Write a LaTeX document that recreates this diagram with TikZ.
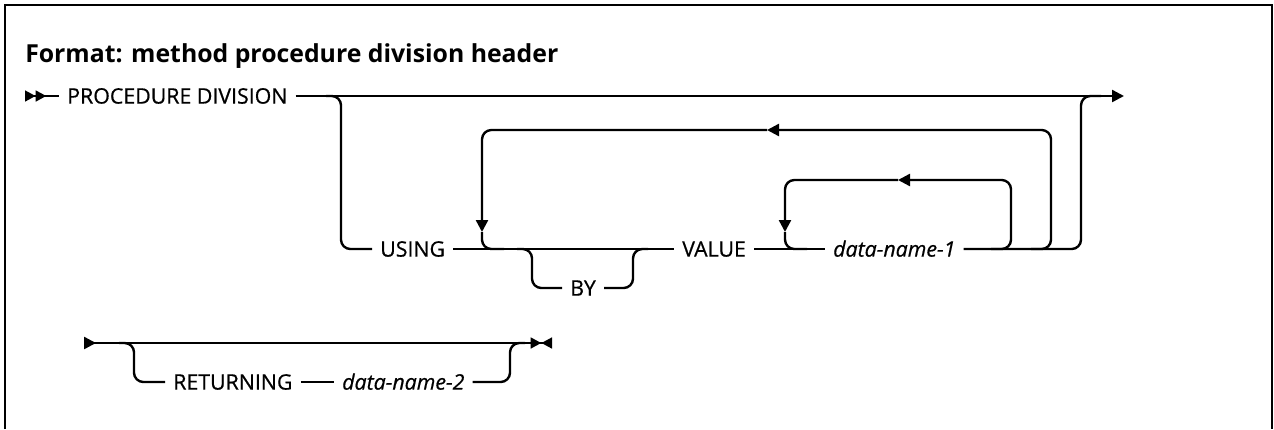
\documentclass[tikz,border=0pt]{standalone}
\usepackage{fontspec}
\setmainfont{Open Sans}
\newfontfamily\railfam{Open Sans}[FakeBold=0.6]
\usetikzlibrary{arrows.meta,positioning}
\newcommand{\kwfont}{\railfam\fontsize{16}{19}\selectfont}
\tikzset{
  railline/.style={line width=1.8pt, rounded corners=7pt},
  railtip/.style={-{Triangle[length=9pt,width=9pt]}},
  kwnode/.style={
    inner xsep=6pt, inner ysep=0pt, text height=11.4pt, text depth=0pt,
    font=\kwfont
  },
  varnode/.style={kwnode, font=\kwfont\itshape},
  headnode/.style={inner sep=0pt, font=\fontsize{18.6}{22}\selectfont\bfseries},
}

\begin{document}
\begin{tikzpicture}[x=0.75pt, y=-0.75pt]
  \useasboundingbox (0,0) rectangle (1274,429);
  \draw[line width=2pt] (5,429) -- (5,5) -- (1272,5) -- (1272,429);
  \node[headnode, anchor=base west] (head) at (25,62) {Format: method procedure division header};

  % first line
  \coordinate (st1) at (25,96);
  \node[kwnode, anchor=west] (proc) at (59,96) {PROCEDURE DIVISION};
  \node[kwnode, anchor=west] (using) at (372,249) {USING};
  \node[kwnode, anchor=west] (by) at (562,288) {BY};
  \node[kwnode, anchor=west] (value) at (674,249) {VALUE};
  \node[varnode, anchor=west] (dn1) at (825,249) {data-name-1};
  \coordinate (jUse) at (341,96);
  \coordinate (jRej) at (1081,96);
  \coordinate (endA) at (1124,96);
  \coordinate (byL) at (532,249);
  \coordinate (byR) at (633,249);
  \coordinate (oL) at (482,130);
  \coordinate (oR) at (1051,130);
  \coordinate (oArr) at (767,130);
  \coordinate (oDn) at (482,232);
  \coordinate (iL) at (785,180);
  \coordinate (iR) at (1011,180);
  \coordinate (iArr) at (898,180);
  \coordinate (iDn) at (785,232);

  \draw[railline, {Triangle[reversed,length=8pt,width=8pt]Triangle[reversed,length=8pt,width=8pt]}-] (st1) -- (proc);
  \draw[railline, railtip] (proc) -- (endA);
  \draw[railline] (jUse) ++(-15,0) -- (jUse) |- (using);
  \draw[railline] (using) -- (value);
  \draw[railline] (byL) ++(-15,0) -- (byL) |- (by);
  \draw[railline] (by) -| (byR) -- ++(15,0);
  \draw[railline] (value) -- (dn1);
  \draw[railline] (dn1) -| (jRej) -- ++(20,0);

  % repeat loops
  \draw[railline, railtip] (oR |- dn1) ++(-20,0) -- (oR |- dn1) -- (oR) -- (oArr);
  \draw[railline, railtip] (oArr) -- (oL) -- (oDn);
  \draw[railline] (oDn) |- ++(22,17);
  \draw[railline, railtip] (iR |- dn1) ++(-20,0) -- (iR |- dn1) -- (iR) -- (iArr);
  \draw[railline, railtip] (iArr) -- (iL) -- (iDn);
  \draw[railline] (iDn) |- ++(22,17);

  % second line
  \coordinate (st3) at (84,343);
  \coordinate (end3) at (552,343);
  \coordinate (jRet) at (134,343);
  \coordinate (jRetR) at (510,343);
  \node[kwnode, anchor=west] (ret) at (165,382) {RETURNING};
  \node[varnode, anchor=west] (dn2) at (334,382) {data-name-2};

  \draw[railline, {Triangle[reversed,length=9pt,width=9pt]}-{Triangle[length=8pt,width=8pt]Triangle[reversed,length=8pt,width=8pt]}] (st3) -- (end3);
  \draw[railline] (jRet) ++(-15,0) -- (jRet) |- (ret);
  \draw[railline] (ret) -- (dn2);
  \draw[railline] (dn2) -| (jRetR) -- ++(15,0);
\end{tikzpicture}
\end{document}
